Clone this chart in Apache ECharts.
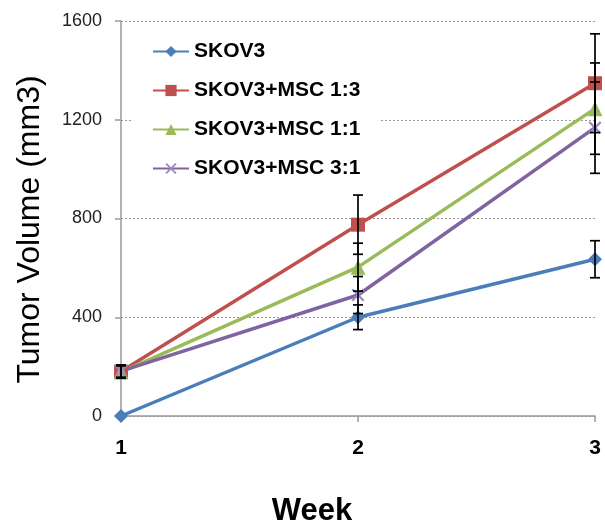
<!DOCTYPE html>
<html><head><meta charset="utf-8">
<script src="https://cdn.jsdelivr.net/npm/echarts@6/dist/echarts.min.js"></script>
<style>html,body{margin:0;padding:0;background:#fff}#c{width:605px;height:529px}</style>
</head><body><div id="c"></div>
<script>
const weeks = ['1', '2', '3'];
const seriesNames = ['SKOV3', 'SKOV3+MSC 1:3', 'SKOV3+MSC 1:1', 'SKOV3+MSC 3:1'];
const skov3 = [0, 400, 635];
const skov3Err = [0, 50, 75];
const msc13 = [180, 775, 1348];
const msc13Err = [25, 120, 200];
const msc11 = [178, 603, 1245];
const msc11Err = [25, 97, 185];
const msc31 = [182, 490, 1168];
const msc31Err = [25, 75, 185];
const yTicks = [0, 400, 800, 1200, 1600];

const colors = ['#4A7EBB', '#C0504D', '#9BBB59', '#8064A2'];
const values = [skov3, msc13, msc11, msc31];
const errors = [skov3Err, msc13Err, msc11Err, msc31Err];
const symbols = ['diamond', 'rect', 'triangle',
  'path://M0,1.2L1.2,0L5,3.8L8.8,0L10,1.2L6.2,5L10,8.8L8.8,10L5,6.2L1.2,10L0,8.8L3.8,5Z'];
const symbolSizes = [14, 14, 15, 13];

const errData = [];
values.forEach((vals, s) => vals.forEach((v, i) => {
  if (errors[s][i] > 0) errData.push([i, v - errors[s][i], v + errors[s][i]]);
}));

const lineSeries = values.map((vals, s) => ({
  name: seriesNames[s],
  type: 'line',
  data: vals,
  symbol: symbols[s],
  symbolSize: symbolSizes[s],
  showAllSymbol: true,
  lineStyle: { color: colors[s], width: 3.5 },
  itemStyle: { color: s === 3 ? '#9C88C4' : colors[s] },
  z: 3,
  animation: false
}));

const errSeries = {
  type: 'custom',
  data: errData,
  z: 5,
  silent: true,
  animation: false,
  renderItem: function (params, api) {
    const x = api.value(0);
    const lo = api.coord([x, api.value(1)]);
    const hi = api.coord([x, api.value(2)]);
    const w = 5;
    const st = { stroke: '#000', lineWidth: 1.7 };
    return {
      type: 'group',
      children: [
        { type: 'line', shape: { x1: lo[0], y1: lo[1], x2: hi[0], y2: hi[1] }, style: st },
        { type: 'line', shape: { x1: lo[0] - w, y1: lo[1], x2: lo[0] + w, y2: lo[1] }, style: st },
        { type: 'line', shape: { x1: hi[0] - w, y1: hi[1], x2: hi[0] + w, y2: hi[1] }, style: st }
      ]
    };
  }
};

const font = 'Liberation Sans, Arial, sans-serif';
const chart = echarts.init(document.getElementById('c'));
chart.setOption({
  animation: false,
  backgroundColor: '#fff',
  grid: { left: 121, right: 10, top: 21, bottom: 113, containLabel: false, outerBoundsMode: 'none' },
  legend: {
    data: seriesNames,
    orient: 'vertical',
    left: 133,
    top: 33,
    itemWidth: 36,
    itemHeight: 14,
    itemGap: 18,
    padding: [8, 20, 8, 19],
    backgroundColor: '#fff',
    textStyle: { fontFamily: font, fontSize: 21, fontWeight: 'bold', color: '#000' }
  },
  xAxis: {
    type: 'category',
    data: weeks,
    boundaryGap: false,
    name: 'Week',
    nameLocation: 'middle',
    nameGap: 80,
    nameTextStyle: { fontFamily: font, fontSize: 31, fontWeight: 'bold', color: '#000', padding: [0, 92, 0, 0] },
    axisLine: { lineStyle: { color: '#999', width: 1.5 } },
    axisTick: { show: true, alignWithLabel: true, length: 6, lineStyle: { color: '#999', width: 1.5 } },
    axisLabel: { fontFamily: font, fontSize: 21, fontWeight: 'bold', color: '#000', margin: 22 },
    splitLine: { show: false }
  },
  yAxis: {
    type: 'value',
    min: 0,
    max: 1600,
    interval: 400,
    name: 'Tumor Volume (mm3)',
    nameLocation: 'middle',
    nameGap: 75,
    nameTextStyle: { fontFamily: font, fontSize: 32, color: '#000', padding: [0, 22, 0, 0] },
    axisLine: { show: true, lineStyle: { color: '#999', width: 1.5 } },
    axisTick: { show: true, length: 6, inside: false, lineStyle: { color: '#999', width: 1.5 } },
    axisLabel: {
      fontFamily: font, fontSize: 18, color: '#222', margin: 19,
      formatter: v => yTicks.includes(v) ? String(v) : ''
    },
    splitLine: { show: true, lineStyle: { color: '#999', type: [2, 2], width: 1 } }
  },
  series: lineSeries.concat([errSeries])
});
</script>
</body></html>
